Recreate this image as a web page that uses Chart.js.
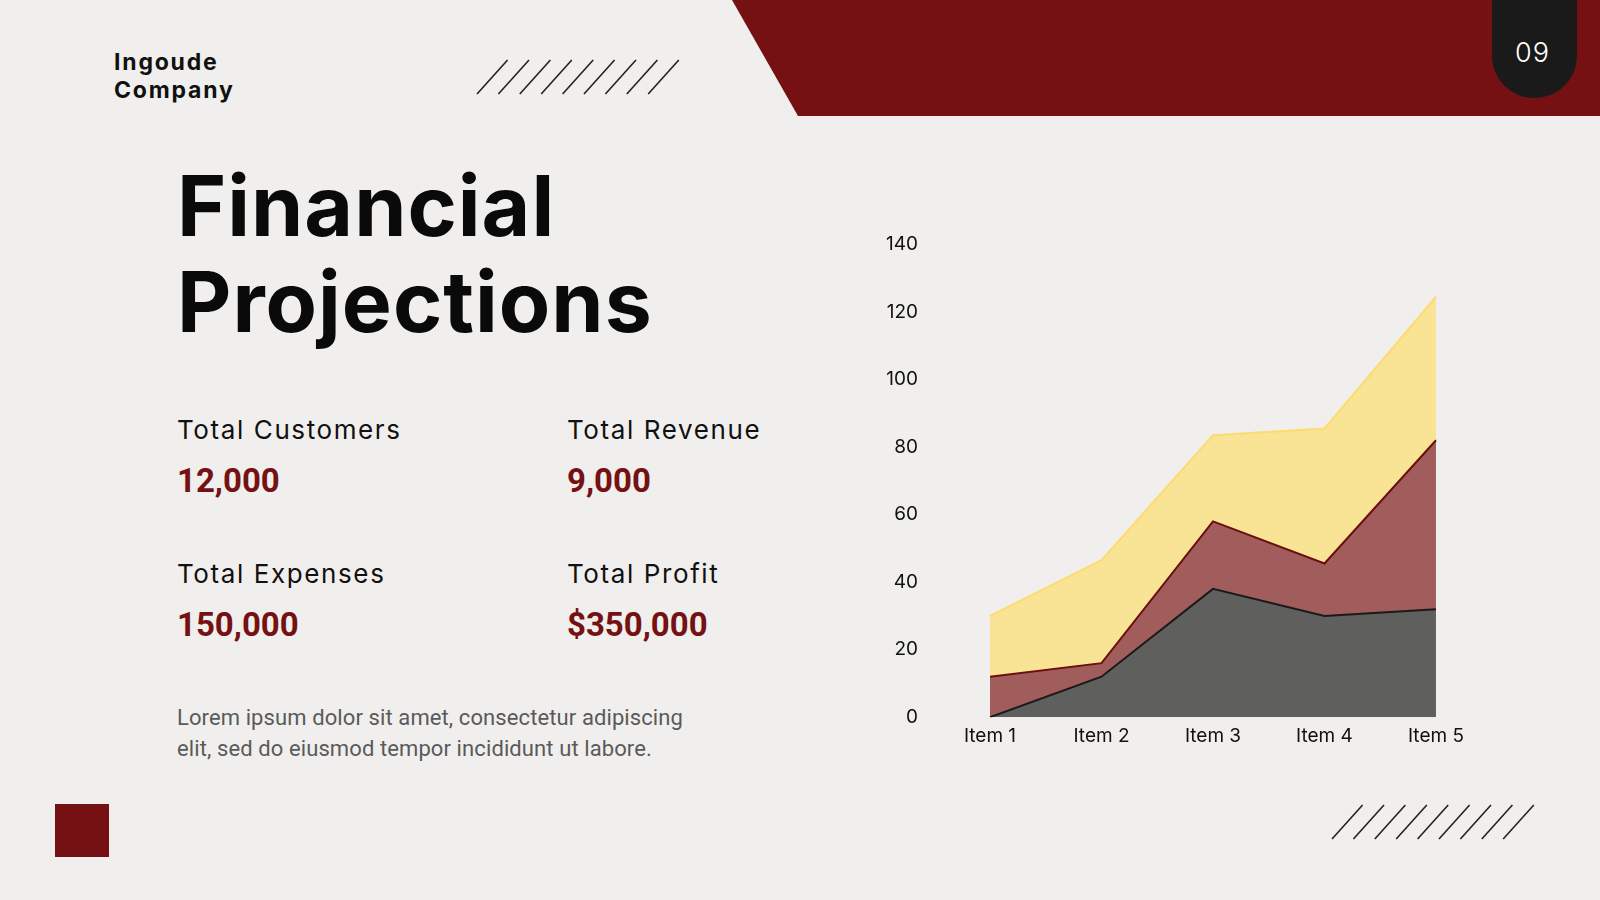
<!DOCTYPE html>
<html>
<head>
<meta charset="utf-8">
<script src="https://cdn.jsdelivr.net/npm/chart.js@4.4.0/dist/chart.umd.min.js"></script>
<style>
  html, body { margin: 0; padding: 0; }
  body { width: 1600px; height: 900px; background: #f0efed; position: relative; overflow: hidden; font-family: Inter, "Open Sans", sans-serif; color: #111; }
  .abs { position: absolute; }
  #brand { left: 114px; top: 48px; font-size: 23px; font-weight: 700; line-height: 28px; letter-spacing: 1.8px; }
  #title { left: 177px; top: 158px; font-size: 84px; font-weight: 700; line-height: 96px; letter-spacing: 1px; color: #0a0a0a; }
  .label { font-size: 26px; font-weight: 400; letter-spacing: 1.6px; }
  .value { font-family: Roboto, sans-serif; font-size: 33px; font-weight: 700; color: #761113; }
  #lorem { left: 177px; top: 702px; font-family: Roboto, sans-serif; font-size: 22px; line-height: 31px; letter-spacing: 0.1px; color: #5a5a5a; }
  #pill { left: 1492px; top: -10px; width: 85px; height: 108px; background: #1a1a1a; border-radius: 0 0 42px 42px; }
  #pagenum { left: 1490px; top: 36px; width: 85px; text-align: center; color: #fff; font-size: 27px; font-weight: 300; letter-spacing: 1px; }
  #square { left: 55px; top: 804px; width: 54px; height: 53px; background: #761113; }
  #chartBox { left: 860px; top: 229px; width: 612px; height: 527px; }
</style>
</head>
<body>
<svg class="abs" style="left:0;top:0" width="1600" height="900">
  <polygon points="732,0 1600,0 1600,116 798,116" fill="#761113"/>
  <g id="slashTop" stroke="#222" stroke-width="1.6"></g>
  <g id="slashBottom" stroke="#222" stroke-width="1.6"></g>
</svg>
<div id="pill" class="abs"></div>
<div id="pagenum" class="abs">09</div>
<div id="brand" class="abs">Ingoude<br>Company</div>
<div id="title" class="abs">Financial<br>Projections</div>

<div class="abs label" style="left:177px;top:414px">Total Customers</div>
<div class="abs value" style="left:177px;top:461px">12,000</div>
<div class="abs label" style="left:567px;top:414px">Total Revenue</div>
<div class="abs value" style="left:567px;top:461px">9,000</div>
<div class="abs label" style="left:177px;top:558px">Total Expenses</div>
<div class="abs value" style="left:177px;top:605px">150,000</div>
<div class="abs label" style="left:567px;top:558px">Total Profit</div>
<div class="abs value" style="left:567px;top:605px">$350,000</div>

<div id="lorem" class="abs">Lorem ipsum dolor sit amet, consectetur adipiscing<br>elit, sed do eiusmod tempor incididunt ut labore.</div>
<div id="square" class="abs"></div>

<div id="chartBox" class="abs"><canvas id="areaChart" width="612" height="527" style="width:612px;height:527px"></canvas></div>

<script>
'use strict';

var categories = ["Item 1", "Item 2", "Item 3", "Item 4", "Item 5"];
var series1 = [0, 12, 38, 30, 32];
var series2 = [12, 4, 20, 15.5, 50];
var series3 = [18, 30.5, 25.5, 40, 42.5];
var yTicks = [0, 20, 40, 60, 80, 100, 120, 140];

// decorative slashes
function drawSlashes(id, x0, yTop, yBot) {
    var g = document.getElementById(id);
    for (var i = 0; i < 9; i++) {
        var x = x0 + i * 21.4;
        var l = document.createElementNS('http://www.w3.org/2000/svg', 'line');
        l.setAttribute('x1', x);
        l.setAttribute('y1', yBot);
        l.setAttribute('x2', x + 30.6);
        l.setAttribute('y2', yTop);
        g.appendChild(l);
    }
}
drawSlashes('slashTop', 477, 60, 94);
drawSlashes('slashBottom', 1332, 805, 839);

var AREACHART = document.getElementById('areaChart');

var areaChart = new Chart(AREACHART, {
    type: 'line',
    data: {
        labels: categories,
        datasets: [
            {
                label: "Series 1",
                data: series1,
                fill: 'origin',
                backgroundColor: "#5f5f5e",
                borderColor: "#1a1a1a",
                borderWidth: 2,
                pointRadius: 0,
                tension: 0
            },
            {
                label: "Series 2",
                data: series2,
                fill: '-1',
                backgroundColor: "#a05d5c",
                borderColor: "#6d0e0f",
                borderWidth: 2,
                pointRadius: 0,
                tension: 0
            },
            {
                label: "Series 3",
                data: series3,
                fill: '-1',
                backgroundColor: "#f9e394",
                borderColor: "#fcdc70",
                borderWidth: 2,
                pointRadius: 0,
                tension: 0
            }
        ]
    },
    options: {
        responsive: false,
        maintainAspectRatio: false,
        animation: false,
        layout: { padding: 0 },
        plugins: { legend: { display: false }, tooltip: { enabled: false } },
        scales: {
            x: {
                offset: false,
                grid: { display: false, drawTicks: false },
                border: { display: false },
                ticks: { color: '#111', padding: 8, maxRotation: 0, font: { family: 'Inter', size: 19 } }
            },
            y: {
                stacked: true,
                min: 0,
                max: 140,
                afterFit: function (scale) { scale.width = 130; },
                afterBuildTicks: function (scale) {
                    scale.ticks = yTicks.map(function (v) { return { value: v }; });
                },
                grid: { display: false, drawTicks: true, tickLength: 68 },
                border: { display: false },
                ticks: { color: '#111', padding: 4, font: { family: 'Inter', size: 19 } }
            }
        }
    }
});
</script>
</body>
</html>
